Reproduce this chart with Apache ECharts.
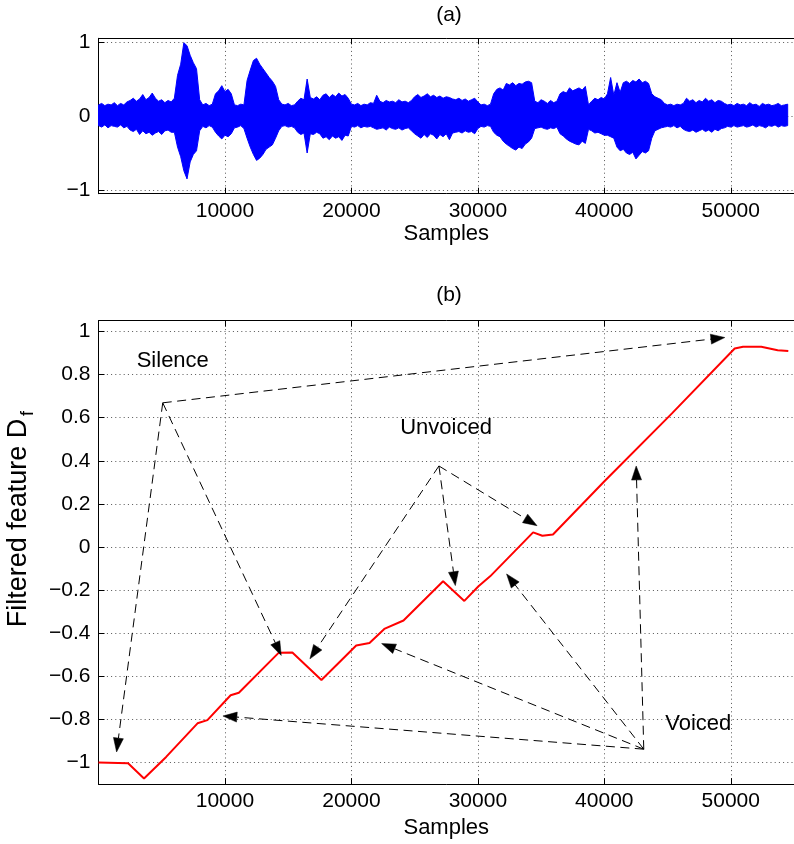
<!DOCTYPE html>
<html>
<head>
<meta charset="utf-8">
<script src="https://cdn.jsdelivr.net/npm/echarts@6/dist/echarts.min.js"></script>
<style>
  html, body { margin: 0; padding: 0; background: #fff; }
  #chart { width: 794px; height: 844px; }
</style>
</head>
<body>
<div id="chart"></div>
<script>
// ---- (a) speech waveform: upper / lower envelope every waveStep samples ----
const waveStep = 250;
const waveHi = [
  0.15, 0.17, 0.14, 0.16, 0.15, 0.18, 0.14, 0.17, 0.15, 0.19,
  0.21, 0.24, 0.20, 0.23, 0.29, 0.22, 0.25, 0.31, 0.24, 0.20,
  0.22, 0.18, 0.21, 0.19, 0.24, 0.55, 0.70, 0.99, 0.95, 0.82,
  0.72, 0.64, 0.22, 0.15, 0.17, 0.14, 0.16, 0.30, 0.34, 0.41,
  0.33, 0.36, 0.30, 0.15, 0.14, 0.16, 0.15, 0.48, 0.62, 0.75,
  0.78, 0.70, 0.64, 0.58, 0.52, 0.47, 0.40, 0.22, 0.16, 0.15,
  0.17, 0.14, 0.15, 0.20, 0.24, 0.22, 0.50, 0.25, 0.23, 0.26,
  0.22, 0.28, 0.30, 0.25, 0.29, 0.26, 0.31, 0.27, 0.29, 0.24,
  0.16, 0.15, 0.17, 0.14, 0.16, 0.15, 0.18, 0.17, 0.28, 0.20,
  0.18, 0.21, 0.19, 0.20, 0.18, 0.22, 0.19, 0.20, 0.18, 0.21,
  0.26, 0.29, 0.25, 0.27, 0.30, 0.26, 0.28, 0.25, 0.27, 0.24,
  0.26, 0.25, 0.23, 0.22, 0.24, 0.21, 0.23, 0.20, 0.22, 0.24,
  0.19, 0.15, 0.16, 0.14, 0.16, 0.30, 0.36, 0.38, 0.35, 0.44,
  0.42, 0.45, 0.41, 0.44, 0.43, 0.46, 0.47, 0.45, 0.20, 0.18,
  0.22, 0.20, 0.17, 0.21, 0.18, 0.20, 0.30, 0.33, 0.31, 0.38,
  0.34, 0.36, 0.38, 0.35, 0.40, 0.15, 0.20, 0.24, 0.22, 0.25,
  0.23, 0.30, 0.52, 0.28, 0.45, 0.32, 0.45, 0.47, 0.44, 0.48,
  0.46, 0.50, 0.45, 0.47, 0.44, 0.30, 0.26, 0.24, 0.22, 0.17,
  0.15, 0.16, 0.14, 0.16, 0.15, 0.17, 0.24, 0.20, 0.22, 0.18,
  0.21, 0.19, 0.24, 0.20, 0.22, 0.18, 0.21, 0.20, 0.17, 0.15,
  0.16, 0.14, 0.17, 0.15, 0.16, 0.14, 0.18, 0.15, 0.16, 0.13,
  0.17, 0.15, 0.16, 0.14, 0.15, 0.17, 0.14, 0.15, 0.16
];
const waveLo = [
  -0.13, -0.15, -0.12, -0.16, -0.13, -0.14, -0.15, -0.12, -0.16, -0.14,
  -0.19, -0.21, -0.18, -0.25, -0.20, -0.24, -0.22, -0.26, -0.23, -0.21,
  -0.25, -0.20, -0.19, -0.22, -0.22, -0.42, -0.55, -0.74, -0.85, -0.62,
  -0.52, -0.47, -0.20, -0.14, -0.16, -0.13, -0.15, -0.22, -0.27, -0.31,
  -0.26, -0.28, -0.24, -0.16, -0.15, -0.13, -0.17, -0.30, -0.42, -0.52,
  -0.60, -0.57, -0.52, -0.45, -0.42, -0.39, -0.30, -0.20, -0.14, -0.13,
  -0.15, -0.14, -0.16, -0.22, -0.25, -0.23, -0.50, -0.24, -0.25, -0.22,
  -0.24, -0.30, -0.28, -0.32, -0.27, -0.30, -0.28, -0.33, -0.26, -0.27,
  -0.14, -0.15, -0.13, -0.16, -0.14, -0.15, -0.14, -0.16, -0.18, -0.17,
  -0.16, -0.19, -0.15, -0.17, -0.18, -0.16, -0.19, -0.17, -0.16, -0.20,
  -0.24, -0.27, -0.30, -0.25, -0.29, -0.24, -0.26, -0.31, -0.25, -0.28,
  -0.24, -0.32, -0.23, -0.22, -0.21, -0.23, -0.20, -0.22, -0.21, -0.24,
  -0.17, -0.14, -0.15, -0.13, -0.14, -0.22, -0.26, -0.28, -0.34, -0.38,
  -0.41, -0.44, -0.46, -0.42, -0.44, -0.38, -0.35, -0.30, -0.17, -0.16,
  -0.15, -0.17, -0.18, -0.16, -0.17, -0.15, -0.24, -0.27, -0.31, -0.34,
  -0.36, -0.38, -0.39, -0.34, -0.37, -0.18, -0.20, -0.23, -0.22, -0.24,
  -0.26, -0.26, -0.28, -0.30, -0.42, -0.47, -0.45, -0.50, -0.52, -0.49,
  -0.58, -0.53, -0.48, -0.50, -0.47, -0.30, -0.20, -0.18, -0.16, -0.15,
  -0.14, -0.15, -0.13, -0.16, -0.14, -0.18, -0.20, -0.21, -0.19, -0.22,
  -0.20, -0.18, -0.21, -0.19, -0.22, -0.18, -0.20, -0.17, -0.16, -0.14,
  -0.15, -0.13, -0.15, -0.14, -0.13, -0.15, -0.14, -0.12, -0.15, -0.13,
  -0.14, -0.16, -0.13, -0.14, -0.12, -0.15, -0.13, -0.14, -0.13
];

// ---- (b) filtered feature D_f ----
const featX = [0, 2340, 3600, 5350, 7830, 8610, 10450, 11100, 14240, 15330,
  17630, 20380, 21430, 22600, 24120, 27250, 28930, 30050, 30970, 34370,
  35100, 35940, 39990, 45350, 50310, 50970, 52410, 53710, 54550];
const featY = [-1.0, -1.003, -1.074, -0.974, -0.818, -0.803, -0.688, -0.676, -0.491, -0.489,
  -0.617, -0.457, -0.445, -0.380, -0.341, -0.159, -0.250, -0.182, -0.136, 0.068,
  0.052, 0.058, 0.304, 0.620, 0.921, 0.929, 0.929, 0.913, 0.909];

// ---- axes ----
const xMin = 0, xMax = 55000;
const xTicks = [10000, 20000, 30000, 40000, 50000];
const yTicksA = [-1, 0, 1];
const yTicksB = [-1, -0.8, -0.6, -0.4, -0.2, 0, 0.2, 0.4, 0.6, 0.8, 1];

// ---- annotations in (b): [fromX, fromY, toX, toY] ----
const silenceArrows = [[5080, 0.669, 49530, 0.972], [5080, 0.669, 1430, -0.951], [5080, 0.669, 14450, -0.503]];
const unvoicedArrows = [[26920, 0.376, 16720, -0.519], [26920, 0.376, 28220, -0.179], [26920, 0.376, 34680, 0.099]];
const voicedArrows = [[43120, -0.938, 9840, -0.784], [43120, -0.938, 22390, -0.448], [43120, -0.938, 32270, -0.125], [43120, -0.938, 42520, 0.376]];
const noteText = ['Silence', 'Unvoiced', 'Voiced'];
const notePos = [[3020, 0.862], [23860, 0.552], [44820, -0.822]];

const FONT = '"Liberation Sans", Arial, Helvetica, sans-serif';
const gridLine = { show: true, lineStyle: { color: '#555', width: 1, type: [1, 3.2] } };
const fmtX = v => String(v);
const fmtY = v => (v < 0 ? '\u2212' + Math.abs(v) : String(v));

function bottomAxis(gridIndex) {
  return {
    type: 'value', gridIndex, min: xMin, max: xMax, position: 'bottom',
    name: 'Samples', nameLocation: 'middle', nameGap: 29.5,
    nameTextStyle: { fontFamily: FONT, fontSize: 22, color: '#000', lineHeight: 22 },
    axisLine: { show: true, onZero: false, lineStyle: { color: '#000', width: 1 } },
    axisTick: { show: true, inside: true, length: 6, customValues: xTicks, lineStyle: { color: '#000' } },
    axisLabel: { customValues: xTicks, formatter: fmtX, margin: 7, fontFamily: FONT, fontSize: 21, color: '#000', lineHeight: 21 },
    splitLine: gridLine
  };
}
function topAxis(gridIndex) {
  return {
    type: 'value', gridIndex, min: xMin, max: xMax, position: 'top',
    axisLine: { show: true, onZero: false, lineStyle: { color: '#000', width: 1 } },
    axisTick: { show: true, inside: true, length: 6, customValues: xTicks, lineStyle: { color: '#000' } },
    axisLabel: { show: false }, splitLine: { show: false }
  };
}
function leftAxis(gridIndex, min, max, ticks) {
  return {
    type: 'value', gridIndex, min, max, position: 'left',
    axisLine: { show: true, onZero: false, lineStyle: { color: '#000', width: 1 } },
    axisTick: { show: true, inside: true, length: 6, customValues: ticks, lineStyle: { color: '#000' } },
    axisLabel: { customValues: ticks, margin: 8, formatter: fmtY, fontFamily: FONT, fontSize: 21, color: '#000' },
    splitLine: gridLine
  };
}

// filled band between the waveform envelopes
function renderWave(params, api) {
  if (params.dataIndex !== 0) return;
  const pts = [];
  for (let i = 0; i < waveHi.length; i++) pts.push(api.coord([i * waveStep, waveHi[i]]));
  for (let i = waveLo.length - 1; i >= 0; i--) pts.push(api.coord([i * waveStep, waveLo[i]]));
  return {
    type: 'polygon', shape: { points: pts },
    style: { fill: '#0000ff', stroke: '#0000ff', lineWidth: 1 }
  };
}

// dashed arrow with a filled head at the target end
function renderArrow(params, api) {
  const p0 = api.coord([api.value(0), api.value(1)]);
  const p1 = api.coord([api.value(2), api.value(3)]);
  const dx = p1[0] - p0[0], dy = p1[1] - p0[1];
  const len = Math.sqrt(dx * dx + dy * dy);
  const ux = dx / len, uy = dy / len;
  const headL = 14, headW = 5;
  const bx = p1[0] - ux * headL, by = p1[1] - uy * headL;
  return {
    type: 'group',
    children: [
      { type: 'line', shape: { x1: p0[0], y1: p0[1], x2: bx, y2: by },
        style: { stroke: '#000', lineWidth: 1, lineDash: [9, 5.5] } },
      { type: 'polygon', shape: { points: [[p1[0], p1[1]], [bx - uy * headW, by + ux * headW], [bx + uy * headW, by - ux * headW]] },
        style: { fill: '#000', stroke: '#000', lineWidth: 0.5 } }
    ]
  };
}

function renderNote(params, api) {
  const p = api.coord([api.value(0), api.value(1)]);
  return {
    type: 'text', x: p[0], y: p[1],
    style: { text: noteText[params.dataIndex], font: '22px ' + FONT, fill: '#000', align: 'left', verticalAlign: 'middle' }
  };
}

const chart = echarts.init(document.getElementById('chart'), null, { renderer: 'canvas' });
chart.setOption({
  animation: false,
  backgroundColor: '#fff',
  grid: [
    { left: 98.5, top: 38.3, width: 701.25, height: 155.4 },
    { left: 98.5, top: 320.7, width: 701.25, height: 464.6 }
  ],
  xAxis: [bottomAxis(0), topAxis(0), bottomAxis(1), topAxis(1)],
  yAxis: [leftAxis(0, -1.05, 1.05, yTicksA), leftAxis(1, -1.1, 1.05, yTicksB)],
  graphic: [
    { type: 'text', x: 449, y: 15, style: { text: '(a)', font: '21px ' + FONT, fill: '#000', align: 'center', verticalAlign: 'middle' } },
    { type: 'text', x: 449, y: 295, style: { text: '(b)', font: '21px ' + FONT, fill: '#000', align: 'center', verticalAlign: 'middle' } },
    { type: 'text', x: 19, y: 523, rotation: Math.PI / 2,
      style: { text: 'Filtered feature D', font: '27px ' + FONT, fill: '#000', align: 'center', verticalAlign: 'middle' } },
    { type: 'text', x: 28, y: 416, rotation: Math.PI / 2,
      style: { text: 'f', font: '18px ' + FONT, fill: '#000', align: 'left', verticalAlign: 'middle' } }
  ],
  series: [
    { type: 'custom', name: 'waveform', xAxisIndex: 0, yAxisIndex: 0, clip: true,
      renderItem: renderWave, data: [[0, 0]], silent: true },
    { type: 'line', name: 'D_f', xAxisIndex: 2, yAxisIndex: 1,
      data: featX.map((x, i) => [x, featY[i]]), showSymbol: false, symbol: 'none',
      lineStyle: { color: '#ff0000', width: 2 }, silent: true, z: 3 },
    { type: 'custom', name: 'arrows', xAxisIndex: 2, yAxisIndex: 1,
      renderItem: renderArrow, encode: { x: [0, 2], y: [1, 3] },
      data: silenceArrows.concat(unvoicedArrows, voicedArrows), silent: true, z: 4 },
    { type: 'custom', name: 'notes', xAxisIndex: 2, yAxisIndex: 1,
      renderItem: renderNote, data: notePos, silent: true, z: 4 }
  ]
});
</script>
</body>
</html>
